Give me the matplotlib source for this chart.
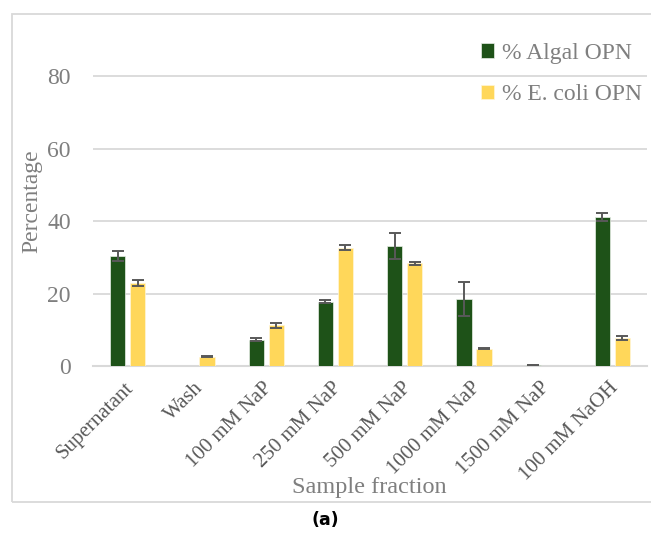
import numpy as np
import matplotlib
matplotlib.use('Agg')
from matplotlib import pyplot as plt
from matplotlib.patches import Rectangle

# Sample fractions and OPN percentages
fractions = ['Supernatant', 'Wash', '100 mM NaP', '250 mM NaP', '500 mM NaP',
             '1000 mM NaP', '1500 mM NaP', '100 mM NaOH']
algal = [30.3, 0.0, 7.3, 17.8, 33.2, 18.5, 0.3, 41.1]
algal_err = [1.4, 0.0, 0.3, 0.4, 3.6, 4.6, 0.1, 1.2]
ecoli = [22.9, 2.6, 11.2, 32.6, 28.3, 4.8, 0.0, 7.7]
ecoli_err = [0.8, 0.2, 0.6, 0.7, 0.4, 0.2, 0.0, 0.6]
yticks = [0, 20, 40, 60, 80]

green = '#1e5218'
yellow = '#ffd75a'
grey_txt = '#7f7f7f'
err_col = '#595959'

plt.rcParams['font.family'] = ['Liberation Serif', 'DejaVu Serif']

fig = plt.figure(figsize=(6.51, 5.34), dpi=100)
ax = fig.add_axes([0.143, 0.3146, 0.851, 0.597])

x = np.arange(len(fractions))
w = 0.22
off = 0.144
ax.bar(x - off, algal, w, color=green, edgecolor='#e8efe6', linewidth=0.5,
       label='% Algal OPN', zorder=3)
ax.bar(x + off, ecoli, w, color=yellow, edgecolor='#fff6d8', linewidth=0.5,
       label='% E. coli OPN', zorder=3)
for xs, vals, errs in [(x - off, algal, algal_err), (x + off, ecoli, ecoli_err)]:
    m = np.array(vals) > 0
    ax.errorbar(xs[m], np.array(vals)[m], yerr=np.array(errs)[m], fmt='none',
                ecolor=err_col, elinewidth=1.4, capsize=4, capthick=1.4, zorder=4)

ax.set_xlim(-0.5, len(fractions) - 0.5)
ax.set_ylim(0, 88)
ax.set_yticks(yticks)
ax.yaxis.grid(True, color='#d9d9d9', linewidth=1.3, zorder=0)
ax.set_axisbelow(True)
for s in ['top', 'right', 'left']:
    ax.spines[s].set_visible(False)
ax.spines['bottom'].set_color('#d9d9d9')
ax.spines['bottom'].set_linewidth(1.5)
ax.tick_params(axis='y', length=0, pad=16, labelsize=17, labelcolor=grey_txt)
ax.tick_params(axis='x', length=0, pad=9, labelsize=15, labelcolor='#595959')
ax.set_xticks(x - 0.05)
ax.set_xticklabels(fractions, rotation=45, ha='right', rotation_mode='anchor')

fig.text(0.049, 0.623, 'Percentage', fontsize=17, color=grey_txt,
         rotation=90, ha='center', va='center')
fig.text(0.568, 0.088, 'Sample fraction', fontsize=17.5, color=grey_txt,
         ha='center', va='center')

leg = ax.legend(loc='upper right', bbox_to_anchor=(1.03, 1.08), frameon=False,
                fontsize=17, handlelength=0.55, handleheight=0.55,
                handletextpad=0.35, labelspacing=0.85)
for t in leg.get_texts():
    t.set_color(grey_txt)

# outer chart frame
fig.patches.append(Rectangle((0.019, 0.06), 1.2, 0.913, transform=fig.transFigure,
                             fill=False, edgecolor='#d9d9d9', linewidth=1.3))

fig.text(0.5, 0.027, '(a)', fontsize=12.5, ha='center', va='center',
         fontweight='bold', family=['DejaVu Sans'])

plt.savefig('out.png', dpi=100)
